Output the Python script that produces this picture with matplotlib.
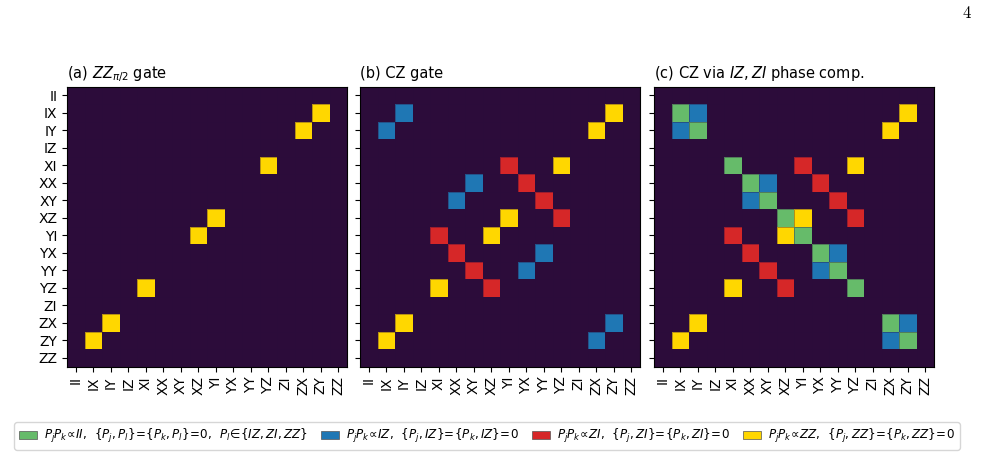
import matplotlib

matplotlib.use("Agg")

import matplotlib.pyplot as plt
import numpy as np
from matplotlib.colors import ListedColormap
from matplotlib.patches import Patch


PAULIS = ["II", "IX", "IY", "IZ", "XI", "XX", "XY", "XZ",
          "YI", "YX", "YY", "YZ", "ZI", "ZX", "ZY", "ZZ"]

# (row, col) pairs by Pauli label, one list per category
ZZ_PAIRS = [("IX", "ZY"), ("IY", "ZX"), ("XI", "YZ"), ("XZ", "YI"),
            ("YI", "XZ"), ("YZ", "XI"), ("ZX", "IY"), ("ZY", "IX")]
IZ_PAIRS = [("IX", "IY"), ("IY", "IX"), ("XX", "XY"), ("XY", "XX"),
            ("YX", "YY"), ("YY", "YX"), ("ZX", "ZY"), ("ZY", "ZX")]
ZI_PAIRS = [("XI", "YI"), ("XX", "YX"), ("XY", "YY"), ("XZ", "YZ"),
            ("YI", "XI"), ("YX", "XX"), ("YY", "XY"), ("YZ", "XZ")]
II_DIAG = ["IX", "IY", "XI", "XX", "XY", "XZ", "YI", "YX", "YY", "YZ", "ZX", "ZY"]

TITLES = [r"(a) $ZZ_{\pi/2}$ gate", "(b) CZ gate", r"(c) CZ via $IZ, ZI$ phase comp."]

COLORS = ["#2c0c3a", "#66bb6a", "#1f77b4", "#d62728", "#ffd700"]
LEGEND_LABELS = [
    r"$P_jP_k\!\propto\!II,\ \,\{P_j,P_l\}\!=\!\{P_k,P_l\}\!=\!0,\ \,P_l\!\in\!\{IZ,ZI,ZZ\}$",
    r"$P_jP_k\!\propto\!IZ,\ \,\{P_j,IZ\}\!=\!\{P_k,IZ\}\!=\!0$",
    r"$P_jP_k\!\propto\!ZI,\ \,\{P_j,ZI\}\!=\!\{P_k,ZI\}\!=\!0$",
    r"$P_jP_k\!\propto\!ZZ,\ \,\{P_j,ZZ\}\!=\!\{P_k,ZZ\}\!=\!0$",
]


def build_matrix(pairs_by_value, diag=None):
    n = len(PAULIS)
    mat = np.zeros((n, n), dtype=int)
    for value, pairs in pairs_by_value.items():
        for r, c in pairs:
            mat[PAULIS.index(r), PAULIS.index(c)] = value
    if diag:
        for p in diag:
            i = PAULIS.index(p)
            mat[i, i] = 1
    return mat


matrices = [
    build_matrix({4: ZZ_PAIRS}),
    build_matrix({2: IZ_PAIRS, 3: ZI_PAIRS, 4: ZZ_PAIRS}),
    build_matrix({2: IZ_PAIRS, 3: ZI_PAIRS, 4: ZZ_PAIRS}, diag=II_DIAG),
]

cmap = ListedColormap(COLORS)

fig = plt.figure(figsize=(10, 4.57), dpi=100)
lefts = [0.067, 0.360, 0.654]

for i, (mat, title) in enumerate(zip(matrices, TITLES)):
    ax = fig.add_axes([lefts[i], 0.1976, 0.28, 0.6127])
    ax.pcolormesh(np.arange(17) - 0.5, np.arange(17) - 0.5, mat, cmap=cmap,
                  vmin=-0.5, vmax=4.5, edgecolors=(0.17, 0.05, 0.23, 0.35),
                  linewidth=0.6)
    ax.set_xlim(-0.5, 15.5)
    ax.set_ylim(15.5, -0.5)
    ax.set_aspect("equal")
    ax.set_xticks(range(16))
    ax.set_xticklabels(PAULIS, rotation=90, fontsize=10)
    ax.set_yticks(range(16))
    if i == 0:
        ax.set_yticklabels(PAULIS, fontsize=10)
    else:
        ax.set_yticklabels([])
    ax.set_title(title, loc="left", fontsize=10.5)

handles = [Patch(facecolor=c, edgecolor="#555555", linewidth=0.5) for c in COLORS[1:]]
fig.legend(handles, LEGEND_LABELS, loc="center", bbox_to_anchor=(0.487, 0.046),
           ncol=4, fontsize=8.6, handlelength=1.5, columnspacing=1.1,
           handletextpad=0.6, borderpad=0.4)

fig.text(0.967, 0.972, r"$4$", math_fontfamily="cm", fontsize=12,
         ha="center", va="center")

fig.savefig("out.png", dpi=100)
